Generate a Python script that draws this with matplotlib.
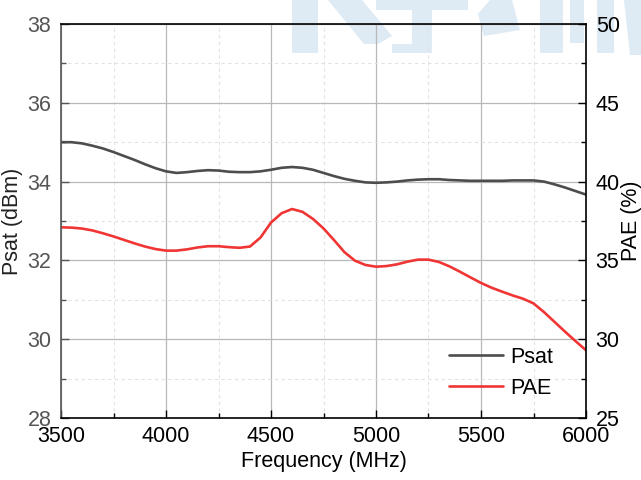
import matplotlib
matplotlib.use("Agg")
import matplotlib.pyplot as plt
from matplotlib.patches import Polygon
from matplotlib.ticker import MultipleLocator

plt.rcParams['font.family'] = ['Liberation Sans', 'DejaVu Sans']

# Frequency sweep (MHz), 50 MHz step
freq = [3500, 3550, 3600, 3650, 3700, 3750, 3800, 3850, 3900, 3950,
        4000, 4050, 4100, 4150, 4200, 4250, 4300, 4350, 4400, 4450,
        4500, 4550, 4600, 4650, 4700, 4750, 4800, 4850, 4900, 4950,
        5000, 5050, 5100, 5150, 5200, 5250, 5300, 5350, 5400, 5450,
        5500, 5550, 5600, 5650, 5700, 5750, 5800, 5850, 5900, 5950, 6000]
# Saturated output power (dBm)
psat = [35.00, 35.00, 34.97, 34.91, 34.84, 34.75, 34.65, 34.55, 34.44, 34.34,
        34.26, 34.22, 34.24, 34.27, 34.29, 34.28, 34.25, 34.24, 34.24, 34.26,
        34.30, 34.35, 34.37, 34.35, 34.30, 34.22, 34.14, 34.07, 34.02, 33.98,
        33.97, 33.98, 34.00, 34.03, 34.05, 34.06, 34.06, 34.04, 34.03, 34.02,
        34.02, 34.02, 34.02, 34.03, 34.03, 34.03, 34.00, 33.93, 33.85, 33.76, 33.67]
# Power-added efficiency (%)
pae = [37.10, 37.08, 37.02, 36.90, 36.72, 36.52, 36.30, 36.08, 35.88, 35.72,
       35.62, 35.62, 35.70, 35.82, 35.90, 35.90, 35.84, 35.80, 35.88, 36.45,
       37.40, 37.99, 38.26, 38.08, 37.63, 37.03, 36.29, 35.52, 34.98, 34.71,
       34.60, 34.64, 34.75, 34.92, 35.05, 35.05, 34.90, 34.62, 34.28, 33.92,
       33.57, 33.27, 33.02, 32.78, 32.57, 32.27, 31.72, 31.10, 30.48, 29.88, 29.30]

W, H = 641, 480
fig = plt.figure(figsize=(W / 100, H / 100), dpi=100)
fig.patch.set_facecolor('white')

# faint background logo strokes behind the plot
logo_color = '#deeaf4'
logo_shapes = [
    [(292, 0), (318, 0), (318, 53), (292, 53)],
    [(328, 0), (362, 0), (392, 36), (378, 44), (364, 44)],
    [(376, 0), (468, 0), (468, 10), (432, 10), (432, 53), (392, 53), (392, 44), (412, 44), (412, 10), (376, 10)],
    [(490, 0), (512, 0), (520, 30), (484, 36), (478, 14)],
    [(540, 0), (563, 0), (563, 53), (540, 53)],
    [(570, 0), (584, 0), (584, 43), (570, 43)],
    [(597, 0), (614, 0), (614, 53), (597, 53)],
    [(624, 0), (641, 0), (641, 55), (630, 55)],
]
for shape in logo_shapes:
    pts = [(x / W, 1 - y / H) for x, y in shape]
    fig.add_artist(Polygon(pts, closed=True, transform=fig.transFigure,
                           facecolor=logo_color, edgecolor='none', zorder=-1))

ax = fig.add_axes([61 / W, 1 - 418 / H, (586 - 61) / W, (418 - 24) / H])
ax.patch.set_alpha(0)
ax2 = ax.twinx()
ax2.patch.set_alpha(0)

psat_color = '#4d4d4d'
pae_color = '#f03535'

l1, = ax.plot(freq, psat, color=psat_color, lw=1.9, label='Psat',
              solid_joinstyle='round', solid_capstyle='round')
l2, = ax2.plot(freq, pae, color=pae_color, lw=1.9, label='PAE',
               solid_joinstyle='round', solid_capstyle='round')

ax.set_xlim(3500, 6000)
ax.set_ylim(28, 38)
ax2.set_ylim(25, 50)

ax.xaxis.set_major_locator(MultipleLocator(500))
ax.xaxis.set_minor_locator(MultipleLocator(250))
ax.yaxis.set_major_locator(MultipleLocator(2))
ax.yaxis.set_minor_locator(MultipleLocator(1))
ax2.yaxis.set_major_locator(MultipleLocator(5))
ax2.yaxis.set_minor_locator(MultipleLocator(2.5))

ax.grid(True, which='major', color='#b8b8b8', lw=0.9, ls='-')
ax.grid(True, which='minor', color='#e2e2e2', lw=0.8, ls=(0, (3, 3)))
ax.set_axisbelow(True)

fs = 15.5
ax.tick_params(axis='x', which='major', direction='in', length=6, width=1,
               labelsize=fs, colors='black', pad=6, top=False)
ax.tick_params(axis='x', which='minor', direction='in', length=3.5, width=1, top=False)
ax.tick_params(axis='y', which='major', direction='in', length=6, width=1,
               labelsize=fs, colors='#555555', pad=7)
ax.tick_params(axis='y', which='minor', direction='in', length=3.5, width=1, colors='#555555')
ax2.tick_params(axis='y', which='major', direction='in', length=6, width=1,
                labelsize=fs, colors='black', pad=7)
ax2.tick_params(axis='y', which='minor', direction='in', length=3.5, width=1, colors='black')

for side in ('top', 'bottom', 'right'):
    ax2.spines[side].set_color('black')
    ax2.spines[side].set_linewidth(1.2)
ax2.spines['left'].set_color('#555555')
ax2.spines['left'].set_linewidth(1.2)
for s in ax.spines.values():
    s.set_visible(False)

ax.set_xlabel('Frequency (MHz)', fontsize=fs, labelpad=3)
ax.set_ylabel('Psat (dBm)', fontsize=fs, color='#222222', labelpad=3)
ax2.set_ylabel('PAE (%)', fontsize=fs, color='black', labelpad=1)

leg = ax2.legend(handles=[l1, l2], loc='lower right', bbox_to_anchor=(0.975, 0.0),
                 frameon=False, fontsize=fs, handlelength=2.5, handletextpad=0.35,
                 labelspacing=0.45)

fig.savefig('out.png', dpi=100)
